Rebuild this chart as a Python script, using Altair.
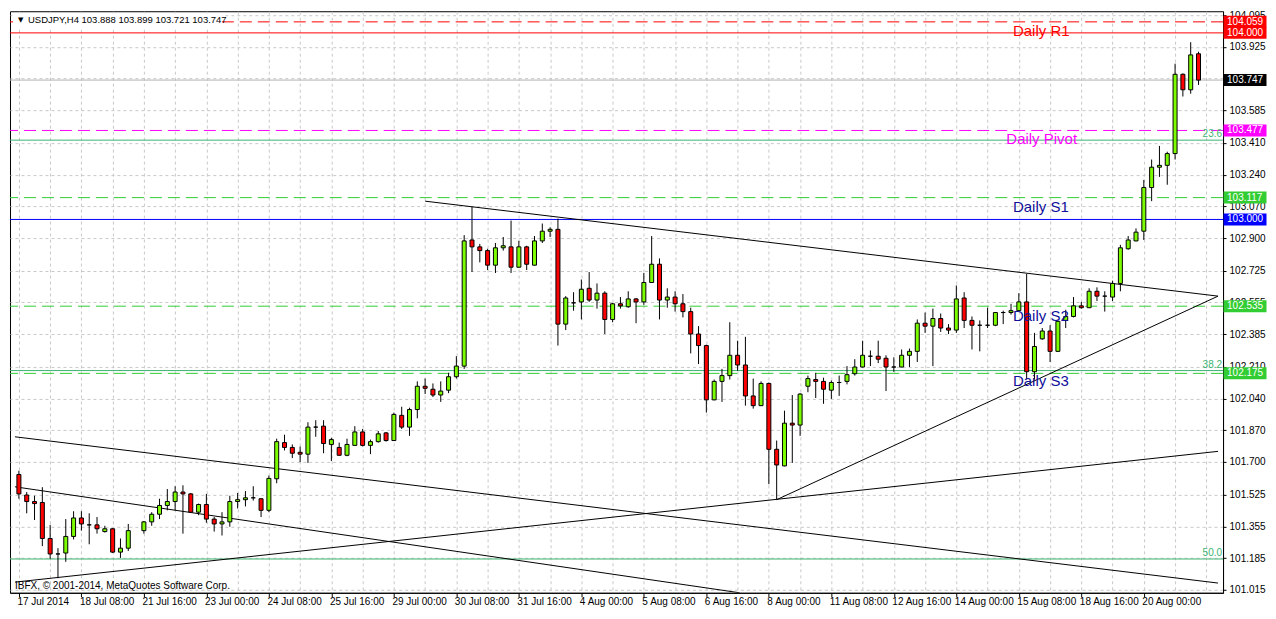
import json
import altair as alt
import numpy as np
import pandas as pd

# ---------------- data ----------------
symbol = "USDJPY,H4"

# bar slot 15 is empty on the reference chart
bar_index = [i for i in range(152) if i != 15]

opens = [101.633, 101.523, 101.488, 101.483, 101.290, 101.207, 101.212, 101.301, 101.400, 101.363,
         101.363, 101.327, 101.342, 101.217, 101.238, 101.332, 101.379, 101.420, 101.467,
         101.488, 101.539, 101.529, 101.431, 101.472, 101.394, 101.368, 101.379, 101.488, 101.498,
         101.508, 101.503, 101.441, 101.610, 101.804, 101.778, 101.752, 101.742, 101.887, 101.892,
         101.794, 101.778, 101.736, 101.789, 101.861, 101.789, 101.809, 101.856, 101.815, 101.950,
         101.887, 101.981, 102.106, 102.090, 102.059, 102.085, 102.157, 102.214, 102.890, 102.853,
         102.833, 102.755, 102.848, 102.853, 102.744, 102.853, 102.755, 102.885, 102.937, 102.947,
         102.439, 102.553, 102.558, 102.631, 102.568, 102.605, 102.464, 102.548, 102.532, 102.574,
         102.558, 102.662, 102.760, 102.568, 102.584, 102.548, 102.506, 102.386, 102.324, 102.033,
         102.132, 102.163, 102.272, 102.220, 102.054, 102.002, 102.121, 101.768, 101.679, 101.908,
         101.898, 102.106, 102.142, 102.132, 102.085, 102.126, 102.132, 102.173, 102.209, 102.267,
         102.267, 102.256, 102.209, 102.209, 102.272, 102.293, 102.444, 102.428, 102.469, 102.418,
         102.407, 102.579, 102.459, 102.433, 102.433, 102.433, 102.501, 102.501, 102.511, 102.558,
         102.184, 102.360, 102.402, 102.293, 102.459, 102.480, 102.537, 102.527, 102.615, 102.589,
         102.584, 102.657, 102.843, 102.885, 102.937, 103.171, 103.280, 103.290, 103.353, 103.778,
         103.695, 103.888]

highs = [101.653, 101.539, 101.519, 101.565, 101.363, 101.238, 101.394, 101.436, 101.436, 101.425,
         101.405, 101.358, 101.345, 101.290, 101.368, 101.384, 101.431, 101.503, 101.555,
         101.570, 101.575, 101.534, 101.477, 101.529, 101.405, 101.431, 101.519, 101.534, 101.544,
         101.570, 101.505, 101.627, 101.825, 101.846, 101.794, 101.783, 101.913, 101.924, 101.924,
         101.830, 101.804, 101.825, 101.892, 101.877, 101.820, 101.866, 101.861, 101.965, 101.996,
         101.991, 102.132, 102.147, 102.121, 102.132, 102.178, 102.267, 102.916, 103.067, 102.869,
         102.843, 102.874, 102.906, 102.994, 102.885, 102.859, 102.911, 102.978, 102.958, 103.004,
         102.589, 102.610, 102.678, 102.718, 102.657, 102.615, 102.553, 102.584, 102.615, 102.579,
         102.713, 102.911, 102.791, 102.631, 102.615, 102.600, 102.527, 102.428, 102.329, 102.142,
         102.199, 102.449, 102.350, 102.371, 102.147, 102.132, 102.126, 101.815, 101.975, 102.059,
         102.069, 102.163, 102.178, 102.152, 102.137, 102.163, 102.214, 102.251, 102.350, 102.298,
         102.350, 102.272, 102.261, 102.303, 102.308, 102.464, 102.501, 102.522, 102.496, 102.439,
         102.646, 102.610, 102.480, 102.459, 102.527, 102.503, 102.511, 102.548, 102.605, 102.708,
         102.392, 102.418, 102.433, 102.459, 102.516, 102.584, 102.558, 102.631, 102.636, 102.615,
         102.672, 102.864, 102.911, 102.952, 103.212, 103.321, 103.394, 103.363, 103.835, 103.783,
         103.950, 103.899]

lows = [101.503, 101.425, 101.389, 101.249, 101.181, 101.077, 101.165, 101.285, 101.332, 101.259,
        101.316, 101.322, 101.212, 101.186, 101.223, 101.316, 101.358, 101.394, 101.441,
        101.441, 101.316, 101.429, 101.415, 101.374, 101.327, 101.306, 101.353, 101.451, 101.462,
        101.493, 101.405, 101.431, 101.586, 101.762, 101.721, 101.700, 101.695, 101.835, 101.747,
        101.705, 101.734, 101.731, 101.787, 101.783, 101.742, 101.804, 101.809, 101.813, 101.877,
        101.840, 101.934, 102.064, 102.048, 102.022, 102.069, 102.147, 102.199, 102.718, 102.770,
        102.729, 102.713, 102.833, 102.713, 102.742, 102.729, 102.753, 102.874, 102.906, 102.324,
        102.407, 102.511, 102.464, 102.558, 102.522, 102.386, 102.449, 102.522, 102.527, 102.444,
        102.542, 102.660, 102.464, 102.527, 102.506, 102.475, 102.282, 102.225, 101.965, 102.031,
        102.022, 102.142, 102.189, 102.002, 101.986, 102.000, 101.581, 101.498, 101.677, 101.695,
        101.840, 102.074, 102.043, 102.012, 102.038, 102.054, 102.116, 102.163, 102.207, 102.214,
        102.230, 102.080, 102.183, 102.207, 102.209, 102.236, 102.392, 102.214, 102.397, 102.386,
        102.392, 102.418, 102.303, 102.293, 102.418, 102.428, 102.439, 102.490, 102.509, 102.142,
        102.142, 102.355, 102.236, 102.291, 102.418, 102.475, 102.522, 102.525, 102.563, 102.506,
        102.563, 102.615, 102.838, 102.883, 102.890, 103.098, 103.228, 103.186, 103.321, 103.659,
        103.674, 103.721]

closes = [101.529, 101.488, 101.477, 101.290, 101.207, 101.207, 101.301, 101.400, 101.368, 101.363,
          101.342, 101.342, 101.217, 101.238, 101.332, 101.379, 101.420, 101.467, 101.488,
          101.539, 101.529, 101.431, 101.472, 101.394, 101.368, 101.379, 101.488, 101.498, 101.508,
          101.508, 101.441, 101.612, 101.809, 101.778, 101.747, 101.742, 101.887, 101.887, 101.799,
          101.820, 101.736, 101.794, 101.861, 101.789, 101.809, 101.851, 101.815, 101.955, 101.887,
          101.981, 102.106, 102.095, 102.059, 102.080, 102.157, 102.214, 102.885, 102.853, 102.833,
          102.755, 102.848, 102.859, 102.744, 102.853, 102.760, 102.885, 102.937, 102.947, 102.439,
          102.579, 102.553, 102.626, 102.568, 102.605, 102.464, 102.548, 102.537, 102.574, 102.558,
          102.662, 102.760, 102.568, 102.584, 102.548, 102.506, 102.386, 102.324, 102.033, 102.132,
          102.163, 102.272, 102.220, 102.054, 102.002, 102.121, 101.768, 101.684, 101.908, 101.898,
          102.064, 102.147, 102.132, 102.090, 102.126, 102.126, 102.168, 102.209, 102.272, 102.267,
          102.251, 102.209, 102.209, 102.272, 102.293, 102.444, 102.428, 102.469, 102.418, 102.407,
          102.574, 102.459, 102.433, 102.433, 102.433, 102.501, 102.501, 102.511, 102.558, 102.184,
          102.319, 102.402, 102.293, 102.454, 102.480, 102.537, 102.527, 102.615, 102.589, 102.589,
          102.657, 102.848, 102.890, 102.932, 103.171, 103.280, 103.290, 103.353, 103.778, 103.695,
          103.882, 103.747]

time_labels = ["17 Jul 2014", "18 Jul 08:00", "21 Jul 16:00", "23 Jul 00:00", "24 Jul 08:00",
               "25 Jul 16:00", "29 Jul 00:00", "30 Jul 08:00", "31 Jul 16:00", "4 Aug 00:00",
               "5 Aug 08:00", "6 Aug 16:00", "8 Aug 00:00", "11 Aug 08:00", "12 Aug 16:00",
               "14 Aug 00:00", "15 Aug 08:00", "18 Aug 16:00", "20 Aug 00:00"]

price_ticks = [101.015, 101.185, 101.355, 101.525, 101.700, 101.870, 102.040, 102.210, 102.385,
               102.555, 102.725, 102.900, 103.070, 103.240, 103.410, 103.585, 103.755, 103.925,
               104.095]

dashed_levels = [104.059, 103.477, 103.117, 102.535, 102.175]
dashed_colors = ["#ff0000", "#ff00ff", "#32cd32", "#32cd32", "#32cd32"]
solid_levels = [103.747, 104.000, 103.000]
solid_colors = ["#b4b4b4", "#ff0000", "#0000ff"]

fib_levels = [103.425, 102.190, 101.180]
fib_names = ["23.6", "38.2", "50.0"]

box_prices = [104.059, 104.000, 103.747, 103.477, 103.117, 103.000, 102.535, 102.175]
box_colors = ["#ff0000", "#ff0000", "#000000", "#ff00ff", "#32cd32", "#0000ff", "#32cd32", "#32cd32"]

pivot_names = ["Daily R1", "Daily Pivot", "Daily S1", "Daily S2", "Daily S3"]
pivot_bars = [127.25, 126.4, 127.25, 127.25, 127.25]
pivot_prices = [104.012, 103.431, 103.067, 102.485, 102.132]
pivot_colors = ["#ff0000", "#ff00ff", "#10109a", "#10109a", "#10109a"]

trend_ids = ["a", "a", "b", "b", "c", "c", "d", "d", "e", "e"]
trend_bars = [52, 153.5, 97, 153.5, -0.5, 153.5, -0.5, 92.25, -0.5, 153.5]
trend_prices = [103.098, 102.589, 101.498, 102.589, 101.835, 101.051, 101.567, 100.999, 101.056, 101.757]

copyright_text = "IBFX, \u00a9 2001-2014, MetaQuotes Software Corp."

# ---------------- chart ----------------
W, H = 1214, 582
FONT = "Liberation Sans"

df = pd.DataFrame({"i": bar_index, "o": opens, "h": highs, "l": lows, "c": closes})
df["dir"] = np.where(df.c > df.o, "up", np.where(df.c < df.o, "down", "flat"))

xs = alt.Scale(domain=[-0.5, 153.5], nice=False, zero=False)
ys = alt.Scale(domain=[100.999, 104.116], nice=False, zero=False)

labels_js = json.dumps(time_labels)
label_test = f"datum.value % 8 == 0 && datum.value / 8 < {len(time_labels)}"
x_axis = alt.Axis(
    values=list(range(0, 153, 4)),
    labelExpr=f"({label_test}) ? {labels_js}[datum.value / 8] : ''",
    grid=True, gridColor="#c8c8c8", gridDash=[3, 3], gridWidth=1,
    tickColor="black", tickSize=4,
    tickOpacity={"condition": {"test": label_test, "value": 1}, "value": 0},
    labelAlign="left", labelOffset=-2, labelPadding=0, labelFlush=False, labelOverlap=False,
    labelFont=FONT, labelFontSize=10, labelColor="black",
    domainColor="black", title=None,
)
y_axis = alt.Axis(
    orient="right", values=price_ticks, format=".3f",
    grid=True, gridColor="#c8c8c8", gridDash=[3, 3], gridWidth=1,
    tickColor="black", tickSize=3, labelPadding=3, labelOverlap=False, labelFlush=False,
    labelFont=FONT, labelFontSize=10, labelColor="black",
    domainColor="black", title=None,
)


def X(f):
    return alt.X(f, type="quantitative", scale=xs, axis=x_axis)


def Y(f):
    return alt.Y(f, type="quantitative", scale=ys, axis=y_axis)


dash_df = pd.DataFrame({"p": dashed_levels, "col": dashed_colors})
solid_df = pd.DataFrame({"p": solid_levels, "col": solid_colors})
fib_df = pd.DataFrame({"p": fib_levels, "name": fib_names})
box_df = pd.DataFrame({"p": box_prices, "col": box_colors})
piv_df = pd.DataFrame({"name": pivot_names, "i": pivot_bars, "p": pivot_prices, "col": pivot_colors})
tr_df = pd.DataFrame({"id": trend_ids, "i": trend_bars, "p": trend_prices})
hdr_df = pd.DataFrame({"t": [f"{symbol}  {opens[-1]:.3f} {highs[-1]:.3f} {lows[-1]:.3f} {closes[-1]:.3f}"]})
cp_df = pd.DataFrame({"t": [copyright_text]})

grid_layer = alt.Chart(df).mark_point(opacity=0).encode(x=X("i"), y=Y("c"))

solid_lines = alt.Chart(solid_df).mark_rule(strokeWidth=1, opacity=1).encode(
    y=Y("p"), color=alt.Color("col:N", scale=None))
fib_lines = alt.Chart(fib_df).mark_rule(strokeWidth=1, color="#3cb371", opacity=1).encode(y=Y("p"))
dash_lines = alt.Chart(dash_df).mark_rule(strokeWidth=1, strokeDash=[12, 6], opacity=1).encode(
    y=Y("p"), color=alt.Color("col:N", scale=None))

trend = alt.Chart(tr_df).mark_line(color="black", strokeWidth=1, clip=True).encode(
    x=X("i"), y=Y("p"), detail="id:N")

wicks = alt.Chart(df).mark_rule(color="black", strokeWidth=1).encode(
    x=X("i"), y=Y("l"), y2="h:Q")
bodies = alt.Chart(df).mark_bar(size=4, stroke="black", strokeWidth=1, opacity=1).encode(
    x=X("i"), y=Y("o"), y2="c:Q",
    color=alt.Color("dir:N", scale=alt.Scale(domain=["up", "down", "flat"],
                                             range=["#7cfc00", "#ff0000", "#000000"]), legend=None))

fib_text = alt.Chart(fib_df).mark_text(align="right", baseline="bottom", dy=-1, fontSize=10,
                                       font=FONT, color="#3cb371").encode(
    x=alt.value(W - 1), y=Y("p"), text="name:N")

piv_text = alt.Chart(piv_df).mark_text(align="left", baseline="middle", fontSize=15, font=FONT).encode(
    x=X("i"), y=Y("p"), text="name:N", color=alt.Color("col:N", scale=None))

boxes = alt.Chart(box_df).mark_tick(orient="horizontal", thickness=12, size=43, opacity=1).encode(
    x=alt.value(W + 22), y=Y("p"), color=alt.Color("col:N", scale=None))
box_text = alt.Chart(box_df).mark_text(align="left", baseline="middle", fontSize=10, font=FONT,
                                       color="white").encode(
    x=alt.value(W + 4), y=Y("p"), text=alt.Text("p:Q", format=".3f"))

hdr_bg = alt.Chart(hdr_df).mark_rect(color="white").encode(
    x=alt.value(3), x2=alt.value(212), y=alt.value(2), y2=alt.value(16))
hdr_arrow = alt.Chart(hdr_df).mark_text(text="\u25bc", align="left", baseline="middle", fontSize=7,
                                        font="DejaVu Sans", color="black").encode(
    x=alt.value(8), y=alt.value(9))
hdr_text = alt.Chart(hdr_df).mark_text(align="left", baseline="middle", fontSize=9.5, font=FONT,
                                       color="black").encode(
    x=alt.value(18), y=alt.value(9), text="t:N")
cp_text = alt.Chart(cp_df).mark_text(align="left", baseline="middle", fontSize=10, font=FONT,
                                     color="black").encode(
    x=alt.value(5), y=alt.value(H - 7), text="t:N")

chart = alt.layer(
    grid_layer, solid_lines, fib_lines, dash_lines, trend, wicks, bodies,
    fib_text, piv_text, boxes, box_text, hdr_bg, hdr_arrow, hdr_text, cp_text,
).properties(
    width=W, height=H, padding=1, background="white",
).configure_view(stroke="black", strokeWidth=1)

chart.save("out.html", embed_options={"renderer": "svg", "actions": False})
